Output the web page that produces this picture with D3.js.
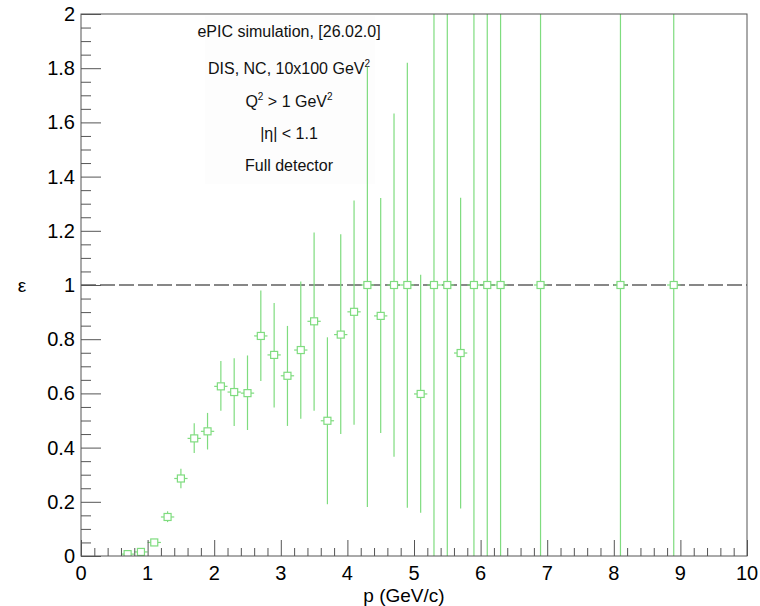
<!DOCTYPE html>
<html>
<head>
<meta charset="utf-8">
<script src="https://cdn.jsdelivr.net/npm/d3@7"></script>
<style>
  body { margin: 0; background: #fff; }
  svg { display: block; font-family: "Liberation Sans", Arial, sans-serif; }
</style>
</head>
<body>
<svg width="760" height="606"></svg>
<script>
// momentum bin centres (GeV/c)
const pCenters = [0.7, 0.9, 1.1, 1.3, 1.5, 1.7, 1.9, 2.1, 2.3, 2.5, 2.7, 2.9, 3.1, 3.3, 3.5, 3.7,
  3.9, 4.1, 4.3, 4.5, 4.7, 4.9, 5.1, 5.3, 5.5, 5.7, 5.9, 6.1, 6.3, 6.9, 8.1, 8.9];
// efficiency
const effValues = [0.007, 0.015, 0.05, 0.144, 0.286, 0.434, 0.46, 0.626, 0.605, 0.601, 0.812, 0.742,
  0.665, 0.76, 0.866, 0.499, 0.817, 0.901, 1, 0.886, 1, 1, 0.598, 1, 1, 0.749, 1, 1, 1, 1, 1, 1];
// lower / upper error bar ends
const effLow = [0.002, 0.008, 0.04, 0.125, 0.25, 0.38, 0.393, 0.536, 0.48, 0.465, 0.646, 0.548,
  0.48, 0.506, 0.536, 0.191, 0.45, 0.484, 0.181, 0.454, 0.366, 0.178, 0.16, 0, 0, 0.175, 0, 0, 0, 0, 0, 0];
const effHigh = [0.012, 0.024, 0.06, 0.165, 0.322, 0.49, 0.528, 0.72, 0.73, 0.74, 0.98, 0.934,
  0.849, 1.013, 1.194, 0.807, 1.187, 1.312, 1.805, 1.321, 1.633, 1.82, 1.038, 2, 2, 1.322, 2, 2, 2, 2, 2, 2];
const binHalf = 0.1;

const labelLines = ["ePIC simulation, [26.02.0]", "DIS, NC, 10x100 GeV2", "Q2 > 1 GeV2", "|η| < 1.1", "Full detector"];

const svg = d3.select("svg");
const padL = 81, padR = 747, padT = 14, padB = 556;
const green = "#7fdc7f";

let x = d3.scaleLinear().domain([0, 10]).range([padL, padR]);
let y = d3.scaleLinear().domain([0, 2]).range([padB, padT]);

svg.append("defs").append("clipPath").attr("id", "clip")
  .append("rect").attr("x", padL).attr("y", padT).attr("width", padR - padL).attr("height", padB - padT);

// faint pave behind the text
svg.append("rect").attr("x", 205).attr("y", 16).attr("width", 170).attr("height", 168)
  .attr("fill", "#fdfdfd");

// text block
const txt = svg.append("g").attr("font-size", 16).attr("fill", "#111").attr("text-anchor", "middle");
const baseY = [37, 74, 107, 139, 171];
txt.append("text").attr("x", 289).attr("y", baseY[0]).text(labelLines[0]);
let t2 = txt.append("text").attr("x", 289).attr("y", baseY[1]);
t2.append("tspan").text("DIS, NC, 10x100 GeV");
t2.append("tspan").attr("font-size", 10).attr("dy", -7).text("2");
let t3 = txt.append("text").attr("x", 289).attr("y", baseY[2]);
t3.append("tspan").text("Q");
t3.append("tspan").attr("font-size", 10).attr("dy", -7).text("2");
t3.append("tspan").attr("dy", 7).text(" > 1 GeV");
t3.append("tspan").attr("font-size", 10).attr("dy", -7).text("2");
txt.append("text").attr("x", 289).attr("y", baseY[3]).text(labelLines[3]);
txt.append("text").attr("x", 289).attr("y", baseY[4]).text(labelLines[4]);

// dashed line at 1
svg.append("line").attr("x1", padL).attr("x2", padR).attr("y1", y(1)).attr("y2", y(1))
  .attr("stroke", "#111").attr("stroke-width", 1.2).attr("stroke-dasharray", "15,4");

// points with error bars
const data = pCenters.map((p, i) => ({ p: p, v: effValues[i], lo: effLow[i], hi: effHigh[i] }));
const pts = svg.append("g").attr("clip-path", "url(#clip)").attr("stroke", green).attr("fill", "none").attr("stroke-width", 1.2);
const m = 3.5; // half marker size
data.forEach(d => {
  let cx = x(d.p), cy = y(d.v);
  if (y(d.hi) < cy - m) pts.append("line").attr("x1", cx).attr("x2", cx).attr("y1", cy - m).attr("y2", y(d.hi));
  if (y(d.lo) > cy + m) pts.append("line").attr("x1", cx).attr("x2", cx).attr("y1", cy + m).attr("y2", y(d.lo));
  pts.append("line").attr("x1", x(d.p - binHalf)).attr("x2", cx - m).attr("y1", cy).attr("y2", cy);
  pts.append("line").attr("x1", cx + m).attr("x2", x(d.p + binHalf)).attr("y1", cy).attr("y2", cy);
  pts.append("rect").attr("x", cx - m).attr("y", cy - m).attr("width", 2 * m).attr("height", 2 * m)
    .attr("fill", "#fff");
});

// axes
const axisColor = "#555";
const xAxis = svg.append("g").attr("transform", `translate(0,${padB})`)
  .call(d3.axisTop(x).tickValues(d3.range(0, 10.001, 0.2)).tickSize(8).tickFormat(""));
xAxis.selectAll(".tick line").filter(d => Math.abs(d - Math.round(d)) < 1e-6).attr("y2", -16);
xAxis.select(".domain").remove();
xAxis.selectAll("line").attr("stroke", axisColor);

const yAxis = svg.append("g").attr("transform", `translate(${padL},0)`)
  .call(d3.axisRight(y).tickValues(d3.range(0, 2.0001, 0.05)).tickSize(10).tickFormat(""));
yAxis.selectAll(".tick line").filter(d => Math.abs(d * 5 - Math.round(d * 5)) < 1e-6).attr("x2", 20);
yAxis.select(".domain").remove();
yAxis.selectAll("line").attr("stroke", axisColor);

// frame
svg.append("rect").attr("x", padL).attr("y", padT).attr("width", padR - padL).attr("height", padB - padT)
  .attr("fill", "none").attr("stroke", axisColor).attr("stroke-width", 1);

// tick labels
const xLabels = d3.range(0, 11);
const yLabels = d3.range(0, 2.0001, 0.2);
svg.append("g").attr("font-size", 20).attr("text-anchor", "middle").attr("fill", "#000")
  .selectAll("text").data(xLabels).join("text")
  .attr("x", d => x(d)).attr("y", 580).text(d => d);
svg.append("g").attr("font-size", 20).attr("text-anchor", "end").attr("fill", "#000")
  .selectAll("text").data(yLabels).join("text")
  .attr("x", padL - 6).attr("y", d => y(d) + 7).text(d => d3.format("~g")(+d.toFixed(1)));

// axis titles
svg.append("text").attr("x", 404).attr("y", 602).attr("font-size", 19).attr("text-anchor", "middle").text("p (GeV/c)");
svg.append("text").attr("x", 22).attr("y", 292).attr("font-size", 19).attr("text-anchor", "middle").text("ε");
</script>
</body>
</html>
